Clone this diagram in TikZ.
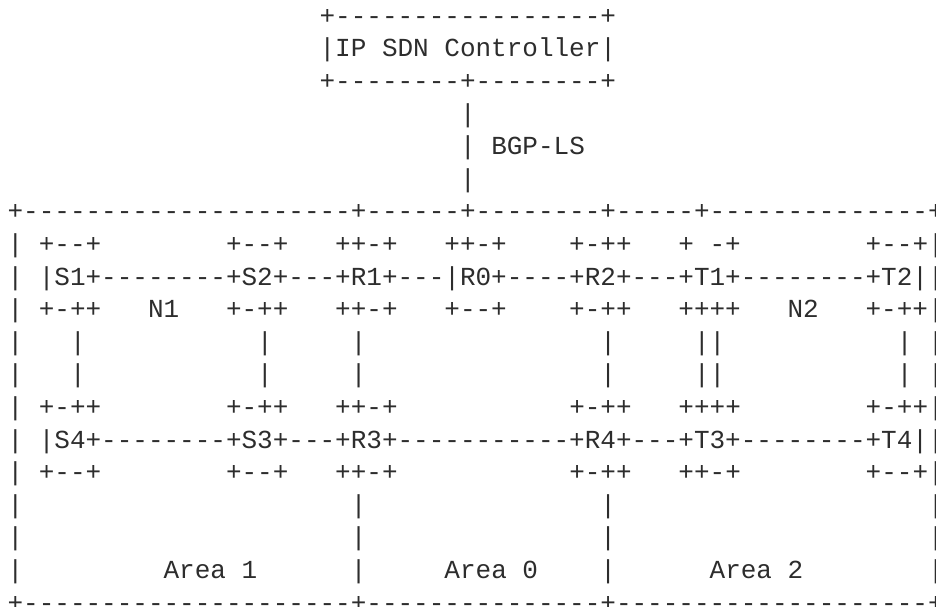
\documentclass[tikz,border=0pt]{standalone}
\usepackage{fontspec}
\newfontfamily\asciifont{Liberation Mono}
\definecolor{ink}{RGB}{45,45,45}
\newlength\cw
\setlength{\cw}{15.6016pt}
\newcommand\gp[1]{\hspace*{#1\cw}}
\tikzset{
  asc/.style={anchor=base west, inner sep=0pt, outer sep=0pt, text=ink,
              font=\asciifont\fontsize{26}{30}\selectfont}
}
% \aline{name}{row}{col}{text}
\newcommand\aline[4]{\node[asc] (#1) at ({7.6+#3*15.6016},{-(24.3+(#2-1)*32.6)}) {#4};}
\begin{document}
\begin{tikzpicture}[x=1pt,y=1pt]
\fill[white] (0,0) rectangle (936,-607);
\useasboundingbox (0,0) rectangle (936,-607);
\aline{l1}{1}{20}{+-----------------+}
\aline{l2}{2}{20}{|IP\gp{1}SDN\gp{1}Controller|}
\aline{l3}{3}{20}{+--------+--------+}
\aline{l4}{4}{29}{|}
\aline{l5}{5}{29}{|\gp{1}BGP-LS}
\aline{l6}{6}{29}{|}
\aline{l7}{7}{0}{+---------------------+------+--------+-----+--------------+}
\aline{l8}{8}{0}{|\gp{1}+--+\gp{8}+--+\gp{3}++-+\gp{3}++-+\gp{4}+-++\gp{3}+\gp{1}-+\gp{8}+--+|}
\aline{l9}{9}{0}{|\gp{1}|S1+--------+S2+---+R1+---|R0+----+R2+---+T1+--------+T2||}
\aline{l10}{10}{0}{|\gp{1}+-++\gp{3}N1\gp{3}+-++\gp{3}++-+\gp{3}+--+\gp{4}+-++\gp{3}++++\gp{3}N2\gp{3}+-++|}
\aline{l11}{11}{0}{|\gp{3}|\gp{11}|\gp{5}|\gp{15}|\gp{5}||\gp{11}|\gp{1}|}
\aline{l12}{12}{0}{|\gp{3}|\gp{11}|\gp{5}|\gp{15}|\gp{5}||\gp{11}|\gp{1}|}
\aline{l13}{13}{0}{|\gp{1}+-++\gp{8}+-++\gp{3}++-+\gp{11}+-++\gp{3}++++\gp{8}+-++|}
\aline{l14}{14}{0}{|\gp{1}|S4+--------+S3+---+R3+-----------+R4+---+T3+--------+T4||}
\aline{l15}{15}{0}{|\gp{1}+--+\gp{8}+--+\gp{3}++-+\gp{11}+-++\gp{3}++-+\gp{8}+--+|}
\aline{l16}{16}{0}{|\gp{21}|\gp{15}|\gp{20}|}
\aline{l17}{17}{0}{|\gp{21}|\gp{15}|\gp{20}|}
\aline{l18}{18}{0}{|\gp{9}Area\gp{1}1\gp{6}|\gp{5}Area\gp{1}0\gp{4}|\gp{6}Area\gp{1}2\gp{8}|}
\aline{l19}{19}{0}{+---------------------+---------------+--------------------+}
\end{tikzpicture}
\end{document}
